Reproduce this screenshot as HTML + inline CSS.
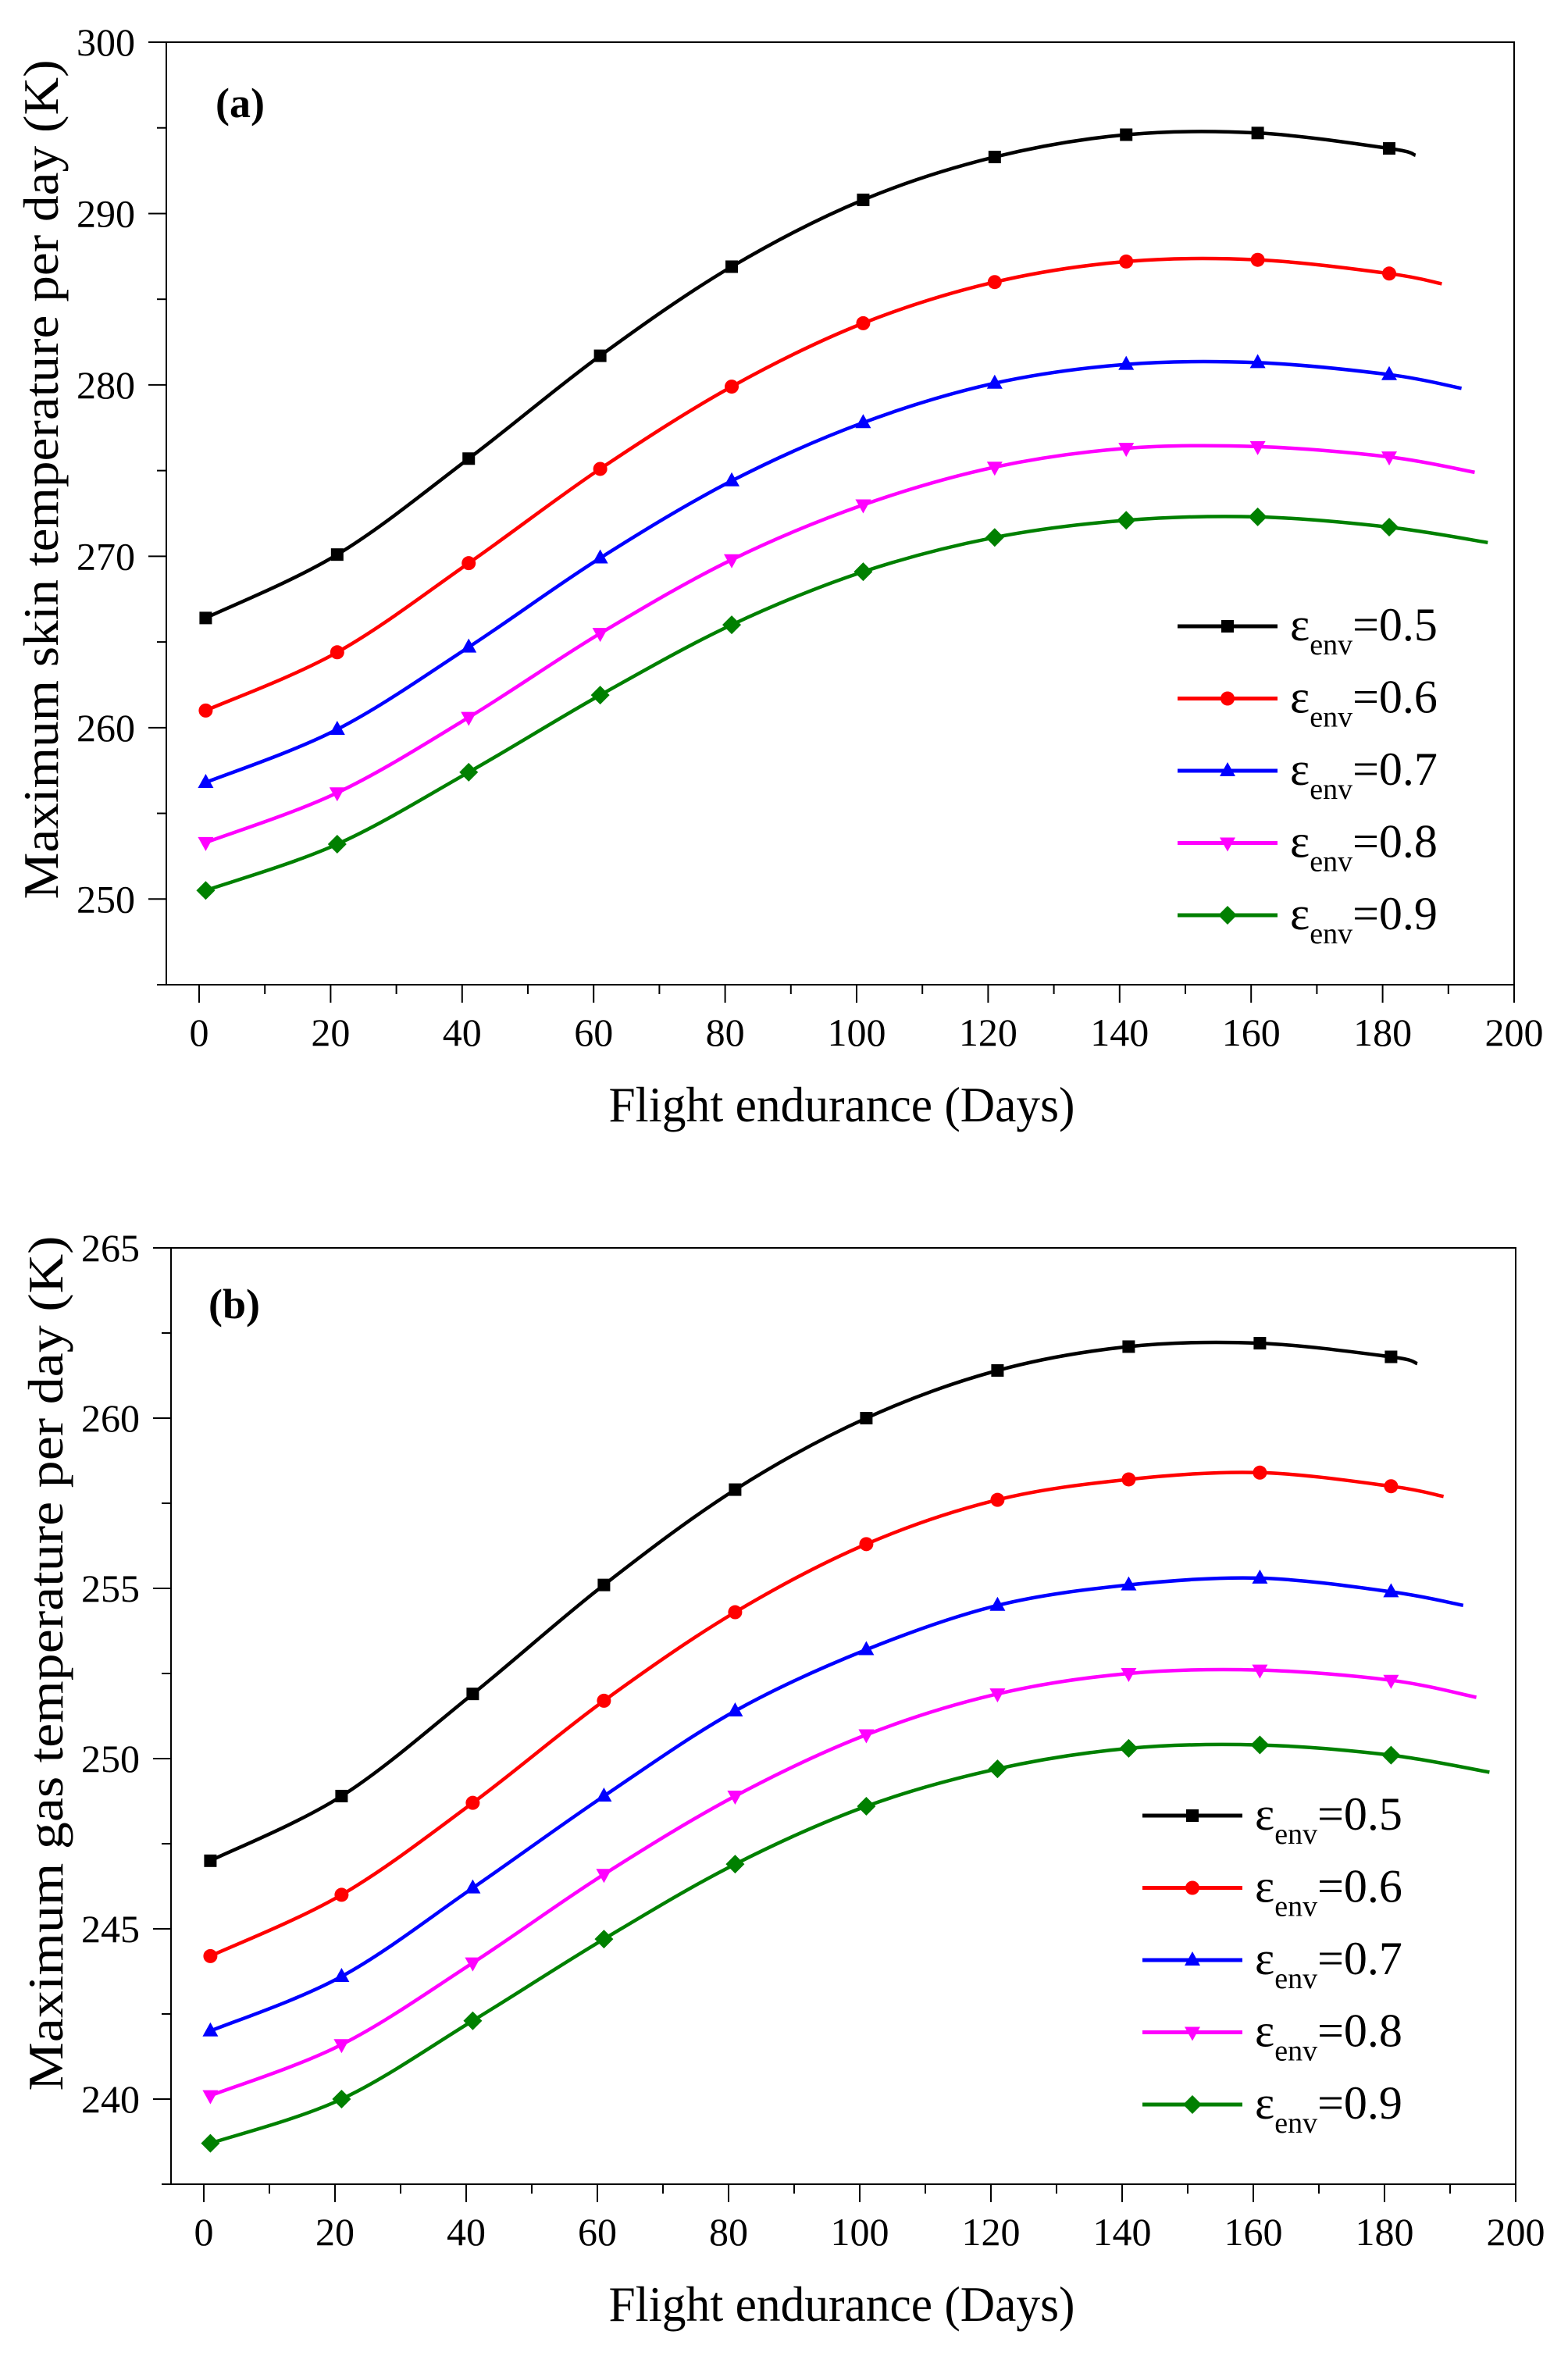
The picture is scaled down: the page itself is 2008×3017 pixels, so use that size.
<!DOCTYPE html>
<html><head><meta charset="utf-8">
<style>
html,body{margin:0;padding:0;background:#fff;}
svg{display:block;}
svg text{font-family:"Liberation Serif","DejaVu Serif",serif;}
</style></head>
<body>
<svg id="fig" width="2008" height="3017" viewBox="0 0 2008 3017" xmlns="http://www.w3.org/2000/svg" font-family="Liberation Serif, serif"></svg>
<script>
// ---- shared data ----
const days = [1, 21, 41, 61, 81, 101, 121, 141, 161, 181];
const endDays = [185, 189, 192, 194, 196];
const seriesLabels = ["0.5", "0.6", "0.7", "0.8", "0.9"];
const xTicks = [0, 20, 40, 60, 80, 100, 120, 140, 160, 180, 200];
// ---- panel (a): skin temperature ----
const skin05 = [266.4, 270.1, 275.7, 281.7, 286.9, 290.8, 293.3, 294.6, 294.7, 293.8];
const skin06 = [261.0, 264.4, 269.6, 275.1, 279.9, 283.6, 286.0, 287.2, 287.3, 286.5];
const skin07 = [256.8, 259.9, 264.7, 269.9, 274.4, 277.8, 280.1, 281.2, 281.3, 280.6];
const skin08 = [253.3, 256.2, 260.6, 265.5, 269.8, 273.0, 275.2, 276.3, 276.4, 275.8];
const skin09 = [250.5, 253.2, 257.4, 261.9, 266.0, 269.1, 271.1, 272.1, 272.3, 271.7];
const skinEnd = [293.4, 285.9, 279.8, 274.9, 270.8];
const skinYTicks = [250, 260, 270, 280, 290, 300];
// ---- panel (b): gas temperature ----
const gas05 = [247.0, 248.9, 251.9, 255.1, 257.9, 260.0, 261.4, 262.1, 262.2, 261.8];
const gas06 = [244.2, 246.0, 248.7, 251.7, 254.3, 256.3, 257.6, 258.2, 258.4, 258.0];
const gas07 = [242.0, 243.6, 246.2, 248.9, 251.4, 253.2, 254.5, 255.1, 255.3, 254.9];
const gas08 = [240.1, 241.6, 244.0, 246.6, 248.9, 250.7, 251.9, 252.5, 252.6, 252.3];
const gas09 = [238.7, 240.0, 242.3, 244.7, 246.9, 248.6, 249.7, 250.3, 250.4, 250.1];
const gasEnd = [261.6, 257.7, 254.5, 251.8, 249.6];
const gasYTicks = [240, 245, 250, 255, 260, 265];

const colors = ["#000000", "#ff0000", "#0000ff", "#ff00ff", "#008000"];
const markers = ["square", "circle", "up", "down", "diamond"];
const NS = "http://www.w3.org/2000/svg";
const svg = document.getElementById("fig");
const FONT = '"Liberation Serif", "DejaVu Serif", serif';

function mk(tag, attrs, parent) {
  const e = document.createElementNS(NS, tag);
  for (const k in attrs) e.setAttribute(k, attrs[k]);
  if (tag === "text") e.setAttribute("font-family", FONT);
  (parent || svg).appendChild(e);
  return e;
}

function smoothPath(pts) {
  let d = "M" + pts[0][0].toFixed(1) + "," + pts[0][1].toFixed(1);
  for (let i = 0; i < pts.length - 1; i++) {
    const p0 = pts[Math.max(0, i - 1)], p1 = pts[i], p2 = pts[i + 1], p3 = pts[Math.min(pts.length - 1, i + 2)];
    const c1 = [p1[0] + (p2[0] - p0[0]) / 6, p1[1] + (p2[1] - p0[1]) / 6];
    const c2 = [p2[0] - (p3[0] - p1[0]) / 6, p2[1] - (p3[1] - p1[1]) / 6];
    d += " C" + c1[0].toFixed(1) + "," + c1[1].toFixed(1) + " " + c2[0].toFixed(1) + "," + c2[1].toFixed(1) + " " + p2[0].toFixed(1) + "," + p2[1].toFixed(1);
  }
  return d;
}

function marker(g, type, x, y, color) {
  let m;
  if (type === "square") m = mk("rect", {x: x - 8, y: y - 8, width: 16, height: 16, fill: color}, g);
  else if (type === "circle") m = mk("circle", {cx: x, cy: y, r: 9, fill: color}, g);
  else if (type === "up") m = mk("polygon", {points: `${x},${y - 11} ${x - 10},${y + 7} ${x + 10},${y + 7}`, fill: color}, g);
  else if (type === "down") m = mk("polygon", {points: `${x},${y + 11} ${x - 10},${y - 7} ${x + 10},${y - 7}`, fill: color}, g);
  else m = mk("polygon", {points: `${x},${y - 12} ${x + 12},${y} ${x},${y + 12} ${x - 12},${y}`, fill: color}, g);
  
  
  return m;
}

function panel(cfg) {
  const g = mk("g", {});
  
  
  const X = v => cfg.x0 + (v - 0) * (cfg.x200 - cfg.x0) / 200;
  const Y = v => cfg.yTop + (cfg.yMax - v) * (cfg.yBot - cfg.yTop) / (cfg.yMax - cfg.yMin);
  const fr = mk("rect", {x: cfg.left, y: cfg.yTop, width: cfg.x200 - cfg.left, height: cfg.yBot - cfg.yTop, fill: "none", stroke: "#000", "stroke-width": 2}, g);
  
  
  const xl = mk("line", {x1: cfg.left - 12, y1: cfg.yBot, x2: cfg.left, y2: cfg.yBot, stroke: "#000", "stroke-width": 2}, g);
  
  
  for (let v = 0; v <= 200; v += 10) {
    const major = v % 20 === 0;
    const t = mk("line", {x1: X(v), y1: cfg.yBot, x2: X(v), y2: cfg.yBot + (major ? 23 : 12), stroke: "#000", "stroke-width": 2}, g);
    
    
  }
  xTicks.forEach(v => {
    const t = mk("text", {x: X(v), y: cfg.yBot + 78, "font-size": 50, "text-anchor": "middle"}, g);
    t.textContent = v;
    
    
  });
  const step = cfg.yTicks[1] - cfg.yTicks[0];
  for (let v = cfg.yTicks[0] - step / 2; v <= cfg.yMax + 0.01; v += step / 2) {
    if (v < cfg.yMin) continue;
    const major = cfg.yTicks.some(t => Math.abs(t - v) < 1e-6);
    const t = mk("line", {x1: cfg.left - (major ? 23 : 12), y1: Y(v), x2: cfg.left, y2: Y(v), stroke: "#000", "stroke-width": 2}, g);
    
    
  }
  cfg.yTicks.forEach(v => {
    const t = mk("text", {x: cfg.left - 40, y: Y(v) + 17, "font-size": 50, "text-anchor": "end"}, g);
    t.textContent = v;
    
    
  });
  const xt = mk("text", {x: 1078, y: cfg.yBot + 175, "font-size": 64, "text-anchor": "middle", textLength: 597, lengthAdjust: "spacingAndGlyphs"}, g);
  xt.textContent = "Flight endurance (Days)";
  
  
  const yc = cfg.ytc;
  const yt = mk("text", {x: cfg.ytx, y: yc, "font-size": 64, "text-anchor": "middle", textLength: cfg.ytLen, lengthAdjust: "spacingAndGlyphs", transform: `rotate(-90 ${cfg.ytx} ${yc})`}, g);
  yt.textContent = cfg.yTitle;
  
  
  const pl = mk("text", {x: cfg.labX, y: cfg.labY, "font-size": 54, "font-weight": "bold"}, g);
  pl.textContent = cfg.label;
  
  
  cfg.series.forEach((vals, i) => {
    const sg = mk("g", {}, g);
    
    
    const pts = days.map((d, j) => [X(d), Y(vals[j])]);
    pts.push([X(endDays[i]), Y(cfg.ends[i])]);
    const p = mk("path", {d: smoothPath(pts), fill: "none", stroke: colors[i], "stroke-width": 4.5, "stroke-linejoin": "round"}, sg);
    
    
    days.forEach((d, j) => marker(sg, markers[i], X(d), Y(vals[j]), colors[i]));
  });
  const lg = mk("g", {}, g);
  
  
  seriesLabels.forEach((lab, i) => {
    const y = cfg.legY + i * cfg.legDy;
    const eg = mk("g", {}, lg);
    
    
    mk("line", {x1: cfg.legX, y1: y, x2: cfg.legX + 128, y2: y, stroke: colors[i], "stroke-width": 5}, eg);
    marker(eg, markers[i], cfg.legX + 64, y, colors[i]);
    const t = mk("text", {x: cfg.legX + 144, y: y + 18, "font-size": 60}, eg);
    t.innerHTML = 'ε<tspan font-size="38" dy="18">env</tspan><tspan dy="-18">=' + lab + '</tspan>';
  });
}

panel({name: "panel-a-skin-temperature", left: 213, x0: 255, x200: 1939, yTop: 54, yBot: 1261, yMin: 245, yMax: 300,
  yTicks: skinYTicks, series: [skin05, skin06, skin07, skin08, skin09], ends: skinEnd,
  yTitle: "Maximum skin temperature per day (K)", ytx: 74, ytc: 614, ytLen: 1075, label: "(a)", labX: 276, labY: 150,
  legX: 1508, legY: 802, legDy: 92.5});
panel({name: "panel-b-gas-temperature", left: 219, x0: 261, x200: 1941, yTop: 1598, yBot: 2797, yMin: 237.5, yMax: 265,
  yTicks: gasYTicks, series: [gas05, gas06, gas07, gas08, gas09], ends: gasEnd,
  yTitle: "Maximum gas temperature per day (K)", ytx: 80, ytc: 2130, ytLen: 1095, label: "(b)", labX: 267, labY: 1688,
  legX: 1463, legY: 2325, legDy: 92.5});
</script>
</body></html>
